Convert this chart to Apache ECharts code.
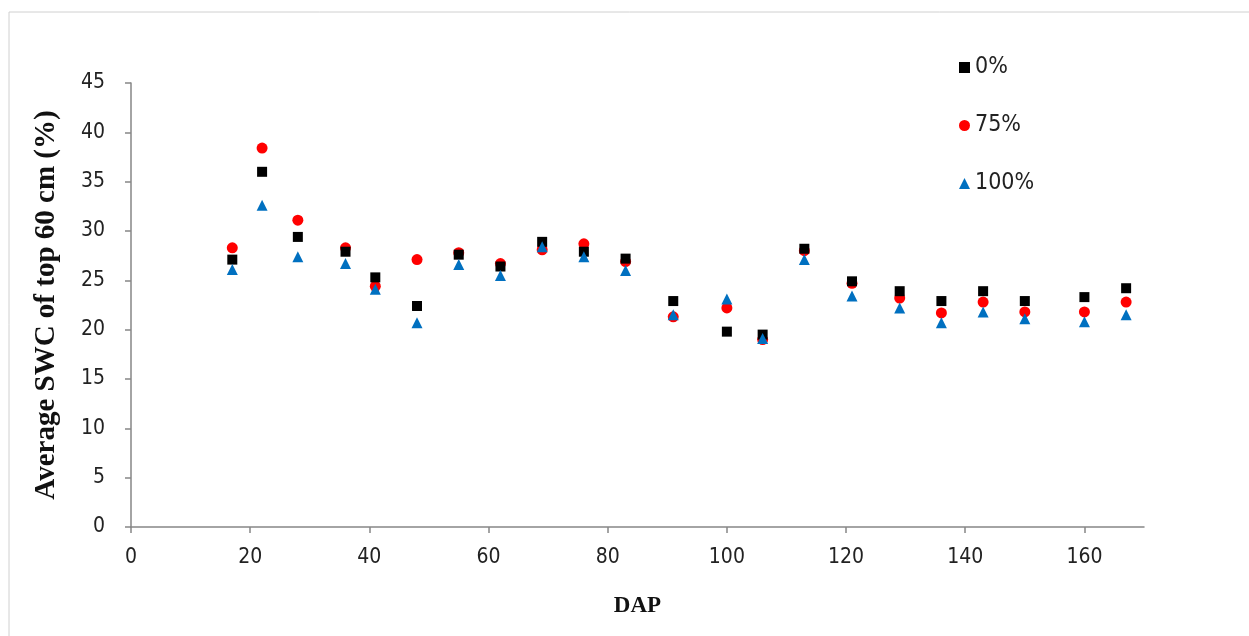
<!DOCTYPE html>
<html>
<head>
<meta charset="utf-8">
<script src="https://cdn.jsdelivr.net/npm/echarts@6/dist/echarts.min.js"></script>
<style>
html,body{margin:0;padding:0;background:#fff;}
#chart{width:1249px;height:636px;}
</style>
</head>
<body>
<div id="chart"></div>
<script>
const dap = [17, 22, 28, 36, 41, 48, 55, 62, 69, 76, 83, 91, 100, 106, 113, 121, 129, 136, 143, 150, 160, 167];
const swc0 = [27.1, 36.0, 29.4, 27.9, 25.3, 22.4, 27.6, 26.4, 28.9, 27.9, 27.2, 22.9, 19.8, 19.5, 28.2, 24.9, 23.9, 22.9, 23.9, 22.9, 23.3, 24.2];
const swc75 = [28.3, 38.4, 31.1, 28.3, 24.4, 27.1, 27.8, 26.7, 28.1, 28.7, 26.9, 21.3, 22.2, 19.0, 28.0, 24.7, 23.2, 21.7, 22.8, 21.8, 21.8, 22.8];
const swc100 = [26.1, 32.6, 27.4, 26.7, 24.1, 20.7, 26.6, 25.5, 28.4, 27.4, 26.0, 21.5, 23.1, 19.1, 27.1, 23.4, 22.2, 20.7, 21.8, 21.1, 20.8, 21.5];
const seriesNames = ['0%', '75%', '100%'];
const xTicks = [0, 20, 40, 60, 80, 100, 120, 140, 160];

const pair = (ys) => dap.map((d, i) => [d, ys[i]]);
const axisCol = '#868686';
const numFont = '"DejaVu Sans Condensed", "Liberation Sans Narrow", "DejaVu Sans", sans-serif';
const tickFont = {fontFamily: numFont, fontSize: 21, color: '#222'};

const chart = echarts.init(document.getElementById('chart'), null, {renderer: 'canvas'});
chart.setOption({
  backgroundColor: '#fff',
  animation: false,
  graphic: [{
    type: 'rect', shape: {x: 9, y: 12, width: 1245, height: 630},
    style: {fill: 'none', stroke: '#d0d0d0', lineWidth: 1}, silent: true
  }],
  grid: {left: 131, top: 83, right: 105, bottom: 109, containLabel: false},
  legend: {
    orient: 'vertical', left: 954, top: 51, itemGap: 35,
    itemWidth: 11, itemHeight: 11,
    textStyle: {fontFamily: numFont, fontSize: 23, color: '#222'},
    data: seriesNames
  },
  xAxis: {
    type: 'value', min: 0, max: 170, interval: 20,
    name: 'DAP', nameLocation: 'middle', nameGap: 68,
    nameTextStyle: {fontFamily: '"Liberation Serif", serif', fontWeight: 'bold', fontSize: 23, color: '#111'},
    axisLine: {show: true, onZero: false, lineStyle: {color: axisCol, width: 1.5}},
    axisTick: {show: true, length: 6, customValues: xTicks, lineStyle: {color: axisCol, width: 1.5}},
    axisLabel: Object.assign({margin: 20, customValues: xTicks}, tickFont),
    splitLine: {show: false}
  },
  yAxis: {
    type: 'value', min: 0, max: 45, interval: 5,
    name: 'Average SWC of top 60 cm (%)', nameLocation: 'middle', nameGap: 70,
    nameTextStyle: {fontFamily: '"Liberation Serif", serif', fontWeight: 'bold', fontSize: 29, color: '#111'},
    axisLine: {show: true, lineStyle: {color: axisCol, width: 1.5}},
    axisTick: {show: true, length: 6, lineStyle: {color: axisCol, width: 1.5}},
    axisLabel: Object.assign({margin: 26}, tickFont),
    splitLine: {show: false}
  },
  series: [
    {name: seriesNames[0], type: 'scatter', symbol: 'rect', symbolSize: 10, itemStyle: {color: '#000000', opacity: 1}, data: pair(swc0), z: 3},
    {name: seriesNames[1], type: 'scatter', symbol: 'circle', symbolSize: 11, itemStyle: {color: '#ff0000', opacity: 1}, data: pair(swc75), z: 2},
    {name: seriesNames[2], type: 'scatter', symbol: 'triangle', symbolSize: 11, itemStyle: {color: '#0070c0', opacity: 1}, data: pair(swc100), z: 4}
  ]
});
</script>
</body>
</html>
